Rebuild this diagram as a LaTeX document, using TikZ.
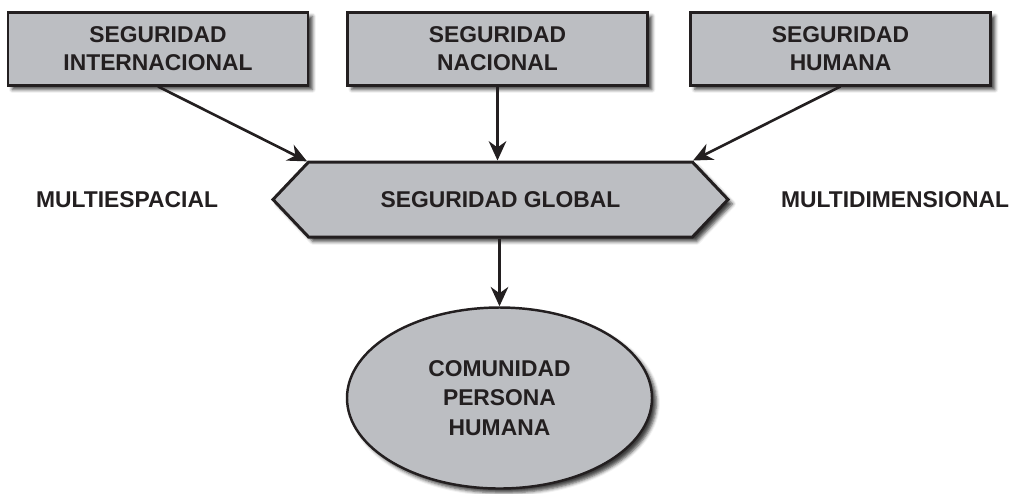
\documentclass[tikz,border=0pt]{standalone}
\usepackage{fontspec}
\setmainfont{Liberation Sans}
\usepackage{tikz}
\usetikzlibrary{positioning, arrows.meta, shapes.geometric, shapes.symbols, shadows.blur}

\definecolor{boxgray}{RGB}{188,190,194}
\definecolor{linedark}{RGB}{35,31,32}

\tikzset{
  boxfont/.style={font=\fontsize{13}{16}\selectfont\bfseries, text=linedark},
  shade box/.style={boxfont, fill=boxgray, draw=linedark, line width=1.7pt, align=center,
    blur shadow={shadow xshift=2.5pt, shadow yshift=-2.5pt, shadow blur radius=2pt, shadow opacity=75}},
  topbox/.style={shade box, rectangle, minimum width=6cm, minimum height=1.46cm, inner sep=0pt},
  globbox/.style={shade box, signal, signal to=west and east, signal pointer angle=93,
    minimum width=9.1cm, minimum height=1.5cm, inner sep=0pt},
  persbox/.style={shade box, ellipse, minimum width=6.1cm, minimum height=3.62cm, inner sep=0pt,
    line width=1.4pt, font=\fontsize{13}{17}\selectfont\bfseries},
  flow/.style={-{Stealth[length=11pt, width=10pt]}, line width=1.5pt, draw=linedark}
}

\begin{document}
\begin{tikzpicture}
        \useasboundingbox (0,0) rectangle (20.5,-9.86);
        % top row of boxes
        \foreach \name/\x/\txt in {inter/3.16/{SEGURIDAD\\INTERNACIONAL},
                                   nac/9.95/{SEGURIDAD\\NACIONAL},
                                   hum/16.81/{SEGURIDAD\\HUMANA}}
        \node[topbox] (\name) at (\x,-0.97) {\txt};
        % central hexagon
        \node[globbox] (glob) at (10.01,-3.99) {SEGURIDAD GLOBAL};
        % side labels
        \node[boxfont] (mesp) at (2.54,-4.0) {MULTIESPACIAL};
        \node[boxfont] (mdim) at (17.9,-4.0) {MULTIDIMENSIONAL};
        % bottom ellipse
        \node[persbox] (pers) at (9.99,-7.96) {COMUNIDAD\\PERSONA\\HUMANA};
        % arrows
        \draw[flow] (inter.south) -- (glob.north west);
        \draw[flow] (nac.south) -- (nac.south |- glob.north);
        \draw[flow] (hum.south) -- (glob.north east);
        \draw[flow] (glob.south -| pers.north) -- (pers.north);
    \end{tikzpicture}
\end{document}
